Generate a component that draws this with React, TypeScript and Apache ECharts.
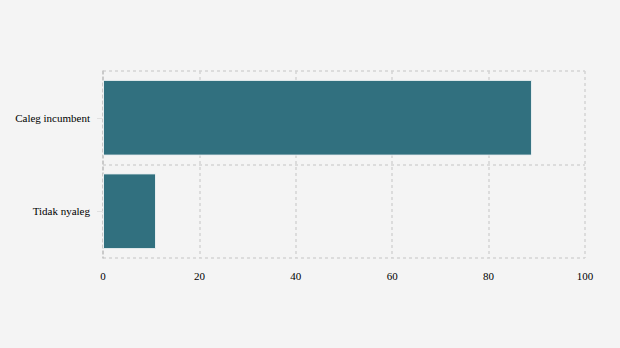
import React, { useEffect, useRef } from "react";
import * as echarts from "echarts";

const categories = ["Caleg incumbent", "Tidak nyaleg"];
const values = [89, 11];
const xTicks = [0, 20, 40, 60, 80, 100];

export default function App() {
  const ref = useRef<HTMLDivElement>(null);
  useEffect(() => {
    document.body.style.margin = "0";
    const chart = echarts.init(ref.current!, null, { renderer: "svg" });
    chart.setOption({
      animation: false,
      backgroundColor: "#f4f4f4",
      textStyle: { fontFamily: "Liberation Serif" },
      grid: { left: 103, right: 35, top: 71, bottom: 90, containLabel: false },
      xAxis: {
        type: "value",
        min: xTicks[0],
        max: xTicks[xTicks.length - 1],
        interval: 20,
        axisLine: { show: false },
        axisTick: { show: false },
        axisLabel: { color: "#000", fontSize: 11, margin: 12, fontFamily: "Liberation Serif" },
        splitLine: { show: true, lineStyle: { type: [3, 3], color: "#d4d4d4", width: 1.5 } },
      },
      yAxis: {
        type: "category",
        data: categories,
        inverse: true,
        axisLine: { show: true, lineStyle: { type: [3, 3], color: "#c2c2c2", width: 1.5 } },
        axisTick: { show: true, alignWithLabel: true, length: 6, lineStyle: { color: "#e0e0e0" } },
        axisLabel: { color: "#000", fontSize: 11, margin: 13, fontFamily: "Liberation Serif" },
        splitLine: { show: true, lineStyle: { type: [3, 3], color: "#d4d4d4", width: 1.5 } },
      },
      series: [
        {
          type: "bar",
          data: values,
          barCategoryGap: "19%",
          itemStyle: { color: "#31707f", borderColor: "#e8eef0", borderWidth: 1 },
        },
      ],
    });
    return () => chart.dispose();
  }, []);
  return <div ref={ref} style={{ width: 620, height: 348 }} />;
}
